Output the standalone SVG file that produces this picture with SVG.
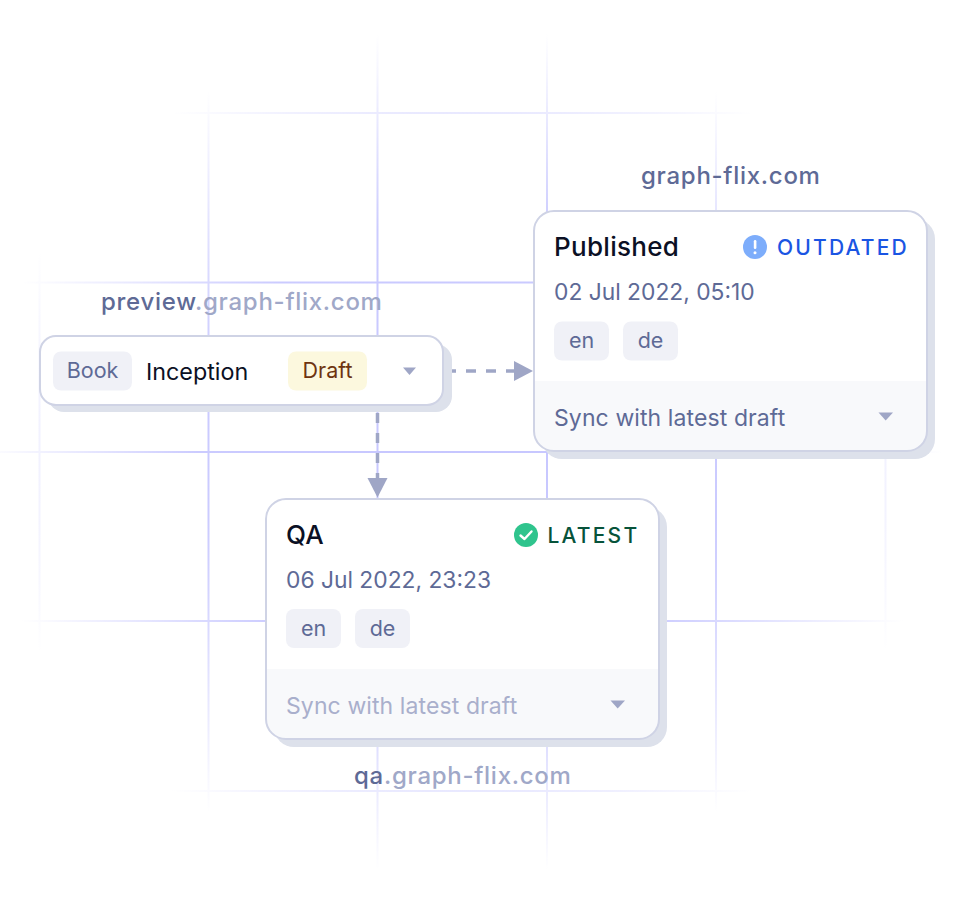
<svg xmlns="http://www.w3.org/2000/svg" width="960" height="904" viewBox="0 0 960 904">
<style>
text{font-family:Inter,"Liberation Sans",sans-serif}
.domain{font-size:24px;font-weight:500;letter-spacing:.72px}
.d1{fill:#5e6a96}.d2{fill:#a0a8c8}
.card{fill:#fff;stroke:#cfd3e5;stroke-width:2}
.shadow{fill:#dde1eb}
.title{font-size:26px;fill:#0b1024;font-weight:500;letter-spacing:.3px}
.name{font-size:23.300px;fill:#0b1024}
.date{font-size:22.800px;fill:#5e6a96}
.tag{fill:#f0f1f7}
.tagt{font-size:21.500px;fill:#5e6a96;text-anchor:middle}
.foot{fill:#f8f9fb}
.sync{font-size:23px;letter-spacing:.1px}
.status{font-size:21px;font-weight:500;letter-spacing:2.200px}
.caret{fill:#9fa6c6}
.g{fill:none;stroke:url(#fade);stroke-width:2}
.c{fill:none;stroke:#9fa6c6;stroke-width:3.500;stroke-dasharray:10 10}
</style>
<defs>
<radialGradient id="fade" gradientUnits="userSpaceOnUse" cx="0" cy="0" r="425" gradientTransform="translate(462 452) scale(1.130 1)">
<stop offset="0" stop-color="#c6c6ff"/><stop offset=".55" stop-color="#cbcbff"/><stop offset=".8" stop-color="#e9e9ff"/><stop offset="1" stop-color="#fff"/>
</radialGradient>
<clipPath id="c1"><rect x="534" y="211" width="393" height="240" rx="20"/></clipPath>
<clipPath id="c2"><rect x="266" y="499" width="393" height="240" rx="20"/></clipPath>
</defs>
<rect width="960" height="904" fill="#fff"/>
<g id="grid" class="g">
<path d="M39.500 0V904M208.500 0V904M377.500 0V904M547 0V904M716 0V904M885.500 0V904"/>
<path d="M0 113H960M0 282.500H960M0 452H960M0 621H960M0 791H960"/>
</g>
<g id="connectors">
<path class="c" d="M452 371H520" stroke-dashoffset="6"/>
<path d="M514 361L533 371L514 381Z" fill="#9fa6c6"/>
<path class="c" d="M377.500 413V484"/>
<path d="M367.500 478H387.500L377.500 497.500Z" fill="#9fa6c6"/>
</g>
<g id="node-preview">
<text class="domain" x="101" y="310"><tspan class="d1">preview</tspan><tspan class="d2">.graph-flix.com</tspan></text>
<rect class="shadow" x="48" y="344" width="404" height="68" rx="16"/>
<rect class="card" x="40" y="336" width="403" height="69" rx="16"/>
<rect class="tag" x="53" y="351.500" width="79" height="39" rx="8"/>
<text class="tagt" x="92.500" y="378">Book</text>
<text class="name" x="146" y="380">Inception</text>
<rect x="288" y="351.500" width="79" height="39" rx="8" fill="#fcf8de"/>
<text x="327.500" y="378" font-size="21.500" fill="#6e3410" text-anchor="middle">Draft</text>
<path class="caret" d="M403 367.500H416L409.500 375Z"/>
</g>
<g id="node-published">
<text class="domain d1" x="641" y="184">graph-flix.com</text>
<rect class="shadow" x="542" y="219" width="393" height="240" rx="20"/>
<rect x="534" y="211" width="393" height="240" rx="20" fill="#fff"/>
<rect class="foot" x="534" y="381" width="393" height="70" clip-path="url(#c1)"/>
<rect class="card" x="534" y="211" width="393" height="240" rx="20" style="fill:none"/>
<text class="title" x="554" y="256">Published</text>
<circle cx="755" cy="247" r="12" fill="#7dadfb"/>
<rect x="753.800" y="240" width="2.600" height="9" rx="1.300" fill="#fff"/>
<circle cx="755" cy="252.800" r="1.500" fill="#fff"/>
<text class="status" x="777" y="254.500" fill="#1a55e3">OUTDATED</text>
<text class="date" x="554" y="300">02 Jul 2022, 05:10</text>
<rect class="tag" x="554" y="321.500" width="55" height="39" rx="8"/>
<text class="tagt" x="581.500" y="348">en</text>
<rect class="tag" x="623" y="321.500" width="55" height="39" rx="8"/>
<text class="tagt" x="650.500" y="348">de</text>
<text class="sync" x="554" y="426" fill="#5e6a96">Sync with latest draft</text>
<path class="caret" d="M878.500 412.500H893L885.700 420.500Z"/>
</g>
<g id="node-qa">
<rect class="shadow" x="274" y="507" width="393" height="240" rx="20"/>
<rect x="266" y="499" width="393" height="240" rx="20" fill="#fff"/>
<rect class="foot" x="266" y="669" width="393" height="70" clip-path="url(#c2)"/>
<rect class="card" x="266" y="499" width="393" height="240" rx="20" style="fill:none"/>
<text class="title" x="286" y="544">QA</text>
<circle cx="526" cy="535" r="12" fill="#2fc48d"/>
<path d="M520.500 535.500L524.500 539L531.500 531.500" fill="none" stroke="#fff" stroke-width="2.400" stroke-linecap="round" stroke-linejoin="round"/>
<text class="status" x="547.500" y="542.500" fill="#07533a">LATEST</text>
<text class="date" x="286" y="588">06 Jul 2022, 23:23</text>
<rect class="tag" x="286" y="609" width="55" height="39" rx="8"/>
<text class="tagt" x="313.500" y="636">en</text>
<rect class="tag" x="355" y="609" width="55" height="39" rx="8"/>
<text class="tagt" x="382.500" y="636">de</text>
<text class="sync" x="286" y="714" fill="#a9afcc">Sync with latest draft</text>
<path class="caret" d="M610.500 700.500H625L617.700 708.500Z"/>
<text class="domain" x="354" y="784"><tspan class="d1">qa</tspan><tspan class="d2">.graph-flix.com</tspan></text>
</g>
</svg>
